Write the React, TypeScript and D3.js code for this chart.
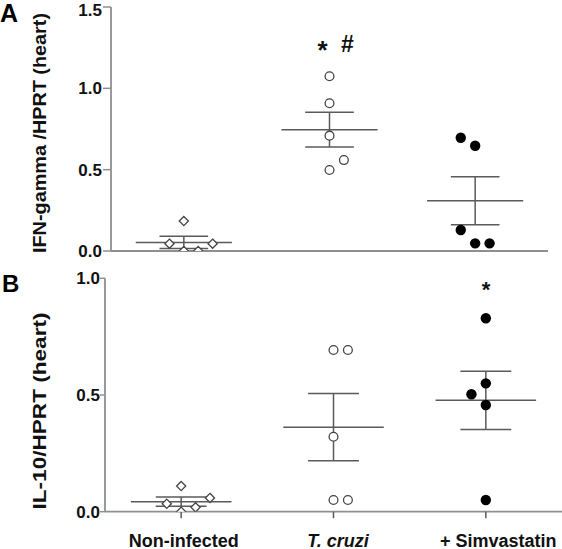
import React from "react";
import * as d3 from "d3";

const categories = ["Non-infected", "T. cruzi", "+ Simvastatin"];
const markerKinds = ["diamond", "circleOpen", "circleFilled"];

// Panel A: IFN-gamma / HPRT
const ifnValues = [
  [0.184, 0.045, 0.045, 0.0, 0.0],
  [1.074, 0.908, 0.709, 0.559, 0.498],
  [0.696, 0.647, 0.129, 0.047, 0.047],
];
const ifnSlots = [
  [0, -1, 2, 0, 1],
  [0, 0, 0, 1, 0],
  [-1, 0, -1, 0, 1],
];
const ifnMeans = [0.053, 0.746, 0.309];
const ifnSems = [0.037, 0.107, 0.147];
const ifnTicks = [0, 0.5, 1.0, 1.5];

// Panel B: IL-10 / HPRT
const il10Values = [
  [0.11, 0.059, 0.034, 0.019, 0.0],
  [0.693, 0.693, 0.321, 0.05, 0.05],
  [0.829, 0.55, 0.503, 0.457, 0.05],
];
const il10Slots = [
  [0, 2, -1, 1, 0],
  [0, 1, 0, 0, 1],
  [0, 0, -1, 0, 0],
];
const il10Means = [0.043, 0.362, 0.477];
const il10Sems = [0.02, 0.144, 0.125];
const il10Ticks = [0, 0.5, 1.0];

const FONT = "'Liberation Sans', Arial, Helvetica, sans-serif";
const AXIS = "#8f8f8f";
const BAR = "#5a5a5a";
const PT = "#444";

type PanelProps = {
  id: string;
  values: number[][];
  slots: number[][];
  means: number[];
  sems: number[];
  ticks: number[];
  xRange: [number, number];
  yRange: [number, number];
  yMax: number;
  tickLen: number;
  labelEnd: number;
  xTicks: boolean;
  title: string;
  titleY: number;
  titleLen: number;
};

function Marker({ kind, x, y }: { kind: string; x: number; y: number }) {
  if (kind === "diamond") {
    const s = 4.6;
    return (
      <path
        d={`M${x},${y - s}L${x + s},${y}L${x},${y + s}L${x - s},${y}Z`}
        fill="#fff"
        stroke={PT}
        strokeWidth={1.3}
      />
    );
  }
  if (kind === "circleOpen") {
    return <circle cx={x} cy={y} r={4.4} fill="#fff" stroke={PT} strokeWidth={1.3} />;
  }
  return <circle cx={x} cy={y} r={5.2} fill="#000" />;
}

function Panel(p: PanelProps) {
  const x = d3.scalePoint<string>().domain(categories).range(p.xRange).padding(0.5);
  const y = d3.scaleLinear().domain([0, p.yMax]).range(p.yRange);
  const step = x.step();
  const meanHalf = step * 0.33;
  const capHalf = step * 0.167;
  const slotUnit = 14.4;
  const y0 = y(0);
  const clipId = `clip-${p.id}`;
  return (
    <g>
      <defs>
        <clipPath id={clipId}>
          <rect x={p.xRange[0]} y={p.yRange[1] - 20} width={p.xRange[1] - p.xRange[0]} height={y0 - p.yRange[1] + 20} />
        </clipPath>
      </defs>
      {/* y axis */}
      <line x1={p.xRange[0]} x2={p.xRange[0]} y1={y(p.yMax)} y2={y0} stroke={AXIS} strokeWidth={1.8} />
      {p.ticks.map((t) => (
        <g key={t}>
          <line x1={p.xRange[0] - p.tickLen} x2={p.xRange[0]} y1={y(t)} y2={y(t)} stroke={AXIS} strokeWidth={1.5} />
          <text
            x={p.labelEnd}
            y={Math.max(y(t), 9.5)}
            dy="0.36em"
            textAnchor="end"
            fontFamily={FONT}
            fontWeight="bold"
            fontSize={17}
            fill="#111"
          >
            {d3.format(".1f")(t)}
          </text>
        </g>
      ))}
      {/* x axis */}
      <line x1={p.xRange[0]} x2={p.xRange[1]} y1={y0} y2={y0} stroke={AXIS} strokeWidth={1.8} />
      {p.xTicks &&
        categories.map((c) => (
          <line key={c} x1={x(c)!} x2={x(c)!} y1={y0} y2={y0 + 6.5} stroke={BAR} strokeWidth={1.5} />
        ))}
      {/* error bars */}
      {categories.map((c, i) => {
        const cx = x(c)!;
        const m = p.means[i];
        const s = p.sems[i];
        return (
          <g key={c} stroke={BAR} strokeWidth={1.5}>
            <line x1={cx - meanHalf} x2={cx + meanHalf} y1={y(m)} y2={y(m)} />
            <line x1={cx} x2={cx} y1={y(m + s)} y2={y(Math.max(0, m - s))} />
            <line x1={cx - capHalf} x2={cx + capHalf} y1={y(m + s)} y2={y(m + s)} />
            <line x1={cx - capHalf} x2={cx + capHalf} y1={y(m - s)} y2={y(m - s)} />
          </g>
        );
      })}
      {/* points */}
      <g clipPath={`url(#${clipId})`}>
        {categories.map((c, i) =>
          p.values[i].map((v, j) => (
            <Marker key={`${c}-${j}`} kind={markerKinds[i]} x={x(c)! + p.slots[i][j] * slotUnit} y={y(v)} />
          ))
        )}
      </g>
      {/* y title */}
      <text
        transform={`translate(46,${p.titleY}) rotate(-90)`}
        textAnchor="middle"
        fontFamily={FONT}
        fontWeight="bold"
        fontSize={19}
        fill="#111"
        textLength={p.titleLen}
        lengthAdjust="spacingAndGlyphs"
      >
        {p.title}
      </text>
    </g>
  );
}

export default function App() {
  return (
    <svg
      width={562}
      height={549}
      viewBox="0 0 562 549"
      style={{ position: "absolute", left: 0, top: 0, background: "#fff" }}
    >
      <rect width={562} height={549} fill="#fff" />
      <text x={0} y={22} fontFamily={FONT} fontWeight="bold" fontSize={25} fill="#000">A</text>
      <text x={2} y={292} fontFamily={FONT} fontWeight="bold" fontSize={24} fill="#000">B</text>
      <Panel
        id="a"
        values={ifnValues}
        slots={ifnSlots}
        means={ifnMeans}
        sems={ifnSems}
        ticks={ifnTicks}
        xRange={[111, 548]}
        yRange={[251, 7]}
        yMax={1.5}
        tickLen={8}
        labelEnd={102}
        xTicks={false}
        title="IFN-gamma /HPRT (heart)"
        titleY={133}
        titleLen={240}
      />
      <Panel
        id="b"
        values={il10Values}
        slots={il10Slots}
        means={il10Means}
        sems={il10Sems}
        ticks={il10Ticks}
        xRange={[105, 562]}
        yRange={[511.7, 278.3]}
        yMax={1.0}
        tickLen={5}
        labelEnd={100}
        xTicks={true}
        title="IL-10/HPRT (heart)"
        titleY={411}
        titleLen={197}
      />
      {/* significance marks */}
      <text x={322.5} y={59} textAnchor="middle" fontFamily={FONT} fontWeight="bold" fontSize={26} fill="#111">*</text>
      <text x={347.5} y={52} textAnchor="middle" fontFamily={FONT} fontWeight="bold" fontSize={23} fill="#111">#</text>
      <text x={486} y={296.5} textAnchor="middle" fontFamily={FONT} fontWeight="bold" fontSize={22} fill="#111">*</text>
      {/* category labels */}
      <text x={183.7} y={546.5} textAnchor="middle" fontFamily={FONT} fontWeight="bold" fontSize={18} fill="#111">Non-infected</text>
      <text x={338} y={546.5} textAnchor="middle" fontFamily={FONT} fontWeight="bold" fontStyle="italic" fontSize={18} fill="#111">T. cruzi</text>
      <text x={440} y={546.5} textAnchor="start" fontFamily={FONT} fontWeight="bold" fontSize={18} fill="#111">+ Simvastatin</text>
    </svg>
  );
}
